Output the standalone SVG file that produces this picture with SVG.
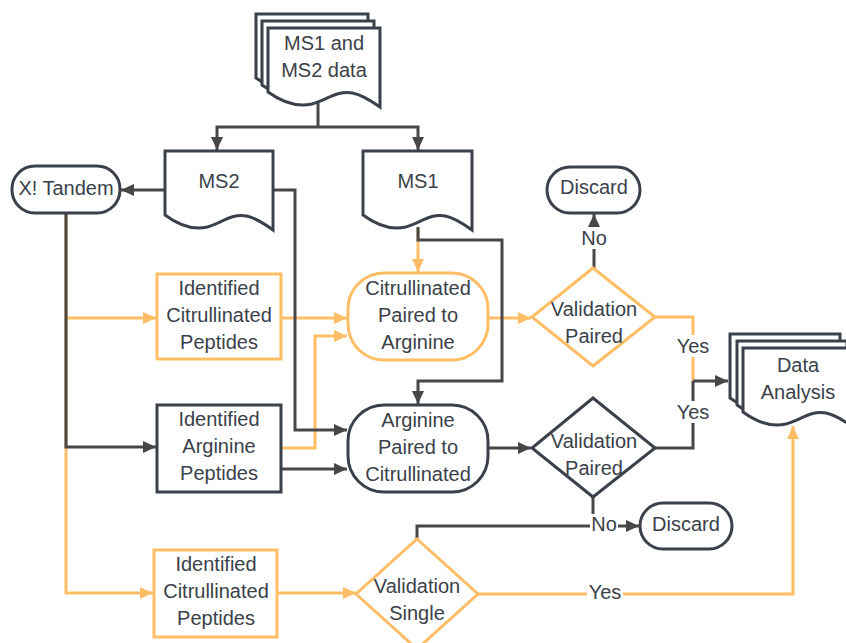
<svg xmlns="http://www.w3.org/2000/svg" width="846" height="643" viewBox="0 0 846 643">
<style>
.nd{fill:#fff;stroke:#3a414a;stroke-width:3}
.no{fill:#fff;stroke:#ffbd66;stroke-width:3}
.doc{fill:#fff;stroke:#3a414a;stroke-width:3;vector-effect:non-scaling-stroke;stroke-linejoin:miter}
.t{font-family:"Liberation Sans",Arial,sans-serif;font-size:20px;fill:#3a414a;text-anchor:middle}
.cd{fill:none;stroke:#474747;stroke-width:3}
.co{fill:none;stroke:#ffbd66;stroke-width:3}
.lb{fill:#fff}
</style>
<defs>
<path id="docp" d="M0,0 H110 V79 C103,74 93,67 83,65 C68,62 58,72 43,76 C30,79 15,75 0,64 Z"/>
<marker id="ad" markerUnits="userSpaceOnUse" markerWidth="14" markerHeight="12" refX="13" refY="6" orient="auto"><path d="M0,0 L13,6 L0,12 Z" fill="#474747"/></marker>
<marker id="ao" markerUnits="userSpaceOnUse" markerWidth="14" markerHeight="12" refX="13" refY="6" orient="auto"><path d="M0,0 L13,6 L0,12 Z" fill="#ffbd66"/></marker>
</defs>

<g id="connectors">
<path class="co" d="M418,228 V272" marker-end="url(#ao)"/>
<path class="co" d="M66,213 V593 H153" marker-end="url(#ao)"/>
<path class="co" d="M66,318 H156" marker-end="url(#ao)"/>
<path class="co" d="M281,318 H347" marker-end="url(#ao)"/>
<path class="co" d="M281,448 H315 V336 H347" marker-end="url(#ao)"/>
<path class="co" d="M488,318 H531" marker-end="url(#ao)"/>
<path class="co" d="M277,593 H356" marker-end="url(#ao)"/>
<path class="co" d="M478,594 H793 V426" marker-end="url(#ao)"/>
<path class="co" d="M655,317 H693 V381"/>
<path class="cd" d="M318,100 V127"/>
<path class="cd" d="M318,127 H217 V150" marker-end="url(#ad)"/>
<path class="cd" d="M318,127 H418 V150" marker-end="url(#ad)"/>
<path class="cd" d="M165,190 H121" marker-end="url(#ad)"/>
<path class="cd" d="M273,190 H295 V430 H347" marker-end="url(#ad)"/>
<path class="cd" d="M418,227 V240 H502 V381 H418 V404" marker-end="url(#ad)"/>
<path class="cd" d="M66,213 V447 H156" marker-end="url(#ad)"/>
<path class="cd" d="M281,469 H347" marker-end="url(#ad)"/>
<path class="cd" d="M488,448 H531" marker-end="url(#ad)"/>
<path class="cd" d="M655,448 H693 V381"/>
<path class="cd" d="M693,381 H728" marker-end="url(#ad)"/>
<path class="cd" d="M594,268 V214" marker-end="url(#ad)"/>
<path class="cd" d="M593,497 V526 H639" marker-end="url(#ad)"/>
<path class="cd" d="M417,539 V526 H593"/>
<rect class="lb" x="579" y="227" width="30" height="22"/>
<text class="t" x="594" y="245">No</text>
<rect class="lb" x="675" y="335" width="36" height="22"/>
<text class="t" x="693" y="353">Yes</text>
<rect class="lb" x="675" y="401" width="36" height="22"/>
<text class="t" x="693" y="419">Yes</text>
<rect class="lb" x="590" y="514" width="28" height="22"/>
<text class="t" x="604" y="531">No</text>
<rect class="lb" x="587" y="581" width="36" height="22"/>
<text class="t" x="605" y="599">Yes</text>
</g>

<g id="ms-data">
<use href="#docp" class="doc" transform="translate(256,14) scale(1.018,1)"/>
<use href="#docp" class="doc" transform="translate(262,21) scale(1.018,1)"/>
<use href="#docp" class="doc" transform="translate(268,28) scale(1.018,1)"/>
<text class="t" x="324" y="50">MS1 and</text>
<text class="t" x="324" y="77">MS2 data</text>
</g>

<g id="ms2">
<use href="#docp" class="doc" transform="translate(165,151) scale(0.982,1)"/>
<text class="t" x="219" y="188">MS2</text>
</g>

<g id="ms1">
<use href="#docp" class="doc" transform="translate(363,151) scale(0.991,1)"/>
<text class="t" x="418" y="188">MS1</text>
</g>

<g id="xtandem">
<rect class="nd" x="12" y="166" width="108" height="47" rx="23"/>
<text class="t" x="66" y="195">X! Tandem</text>
</g>

<g id="discard1">
<rect class="nd" x="547" y="167" width="93" height="46" rx="23"/>
<text class="t" x="594" y="194">Discard</text>
</g>

<g id="icp-top">
<rect class="no" x="157" y="274" width="124" height="85"/>
<text class="t" x="219" y="295">Identified</text>
<text class="t" x="219" y="322">Citrullinated</text>
<text class="t" x="219" y="349">Peptides</text>
</g>

<g id="iap">
<rect class="nd" x="157" y="405" width="124" height="87"/>
<text class="t" x="219" y="426">Identified</text>
<text class="t" x="219" y="453">Arginine</text>
<text class="t" x="219" y="480">Peptides</text>
</g>

<g id="cpa">
<rect class="no" x="348" y="273" width="140" height="87" rx="36"/>
<text class="t" x="418" y="295">Citrullinated</text>
<text class="t" x="418" y="322">Paired to</text>
<text class="t" x="418" y="349">Arginine</text>
</g>

<g id="apc">
<rect class="nd" x="348" y="405" width="140" height="87" rx="36"/>
<text class="t" x="418" y="427">Arginine</text>
<text class="t" x="418" y="454">Paired to</text>
<text class="t" x="418" y="481">Citrullinated</text>
</g>

<g id="vp1">
<path class="no" d="M593,268 L655,317 L593,366 L532,317 Z"/>
<text class="t" x="594" y="316">Validation</text>
<text class="t" x="594" y="343">Paired</text>
</g>

<g id="vp2">
<path class="nd" d="M593,398 L655,448 L593,497 L532,448 Z"/>
<text class="t" x="594" y="448">Validation</text>
<text class="t" x="594" y="475">Paired</text>
</g>

<g id="data-analysis">
<use href="#docp" class="doc" transform="translate(730,334)"/>
<use href="#docp" class="doc" transform="translate(737,341)"/>
<use href="#docp" class="doc" transform="translate(743,348)"/>
<text class="t" x="798" y="372">Data</text>
<text class="t" x="798" y="399">Analysis</text>
</g>

<g id="discard2">
<rect class="nd" x="640" y="503" width="92" height="46" rx="23"/>
<text class="t" x="686" y="531">Discard</text>
</g>

<g id="icp-bottom">
<rect class="no" x="154" y="550" width="123" height="87"/>
<text class="t" x="216" y="571">Identified</text>
<text class="t" x="216" y="598">Citrullinated</text>
<text class="t" x="216" y="625">Peptides</text>
</g>

<g id="vs">
<path class="no" d="M417,539 L478,594 L417,649 L356,594 Z"/>
<text class="t" x="417" y="593">Validation</text>
<text class="t" x="417" y="620">Single</text>
</g>
</svg>
